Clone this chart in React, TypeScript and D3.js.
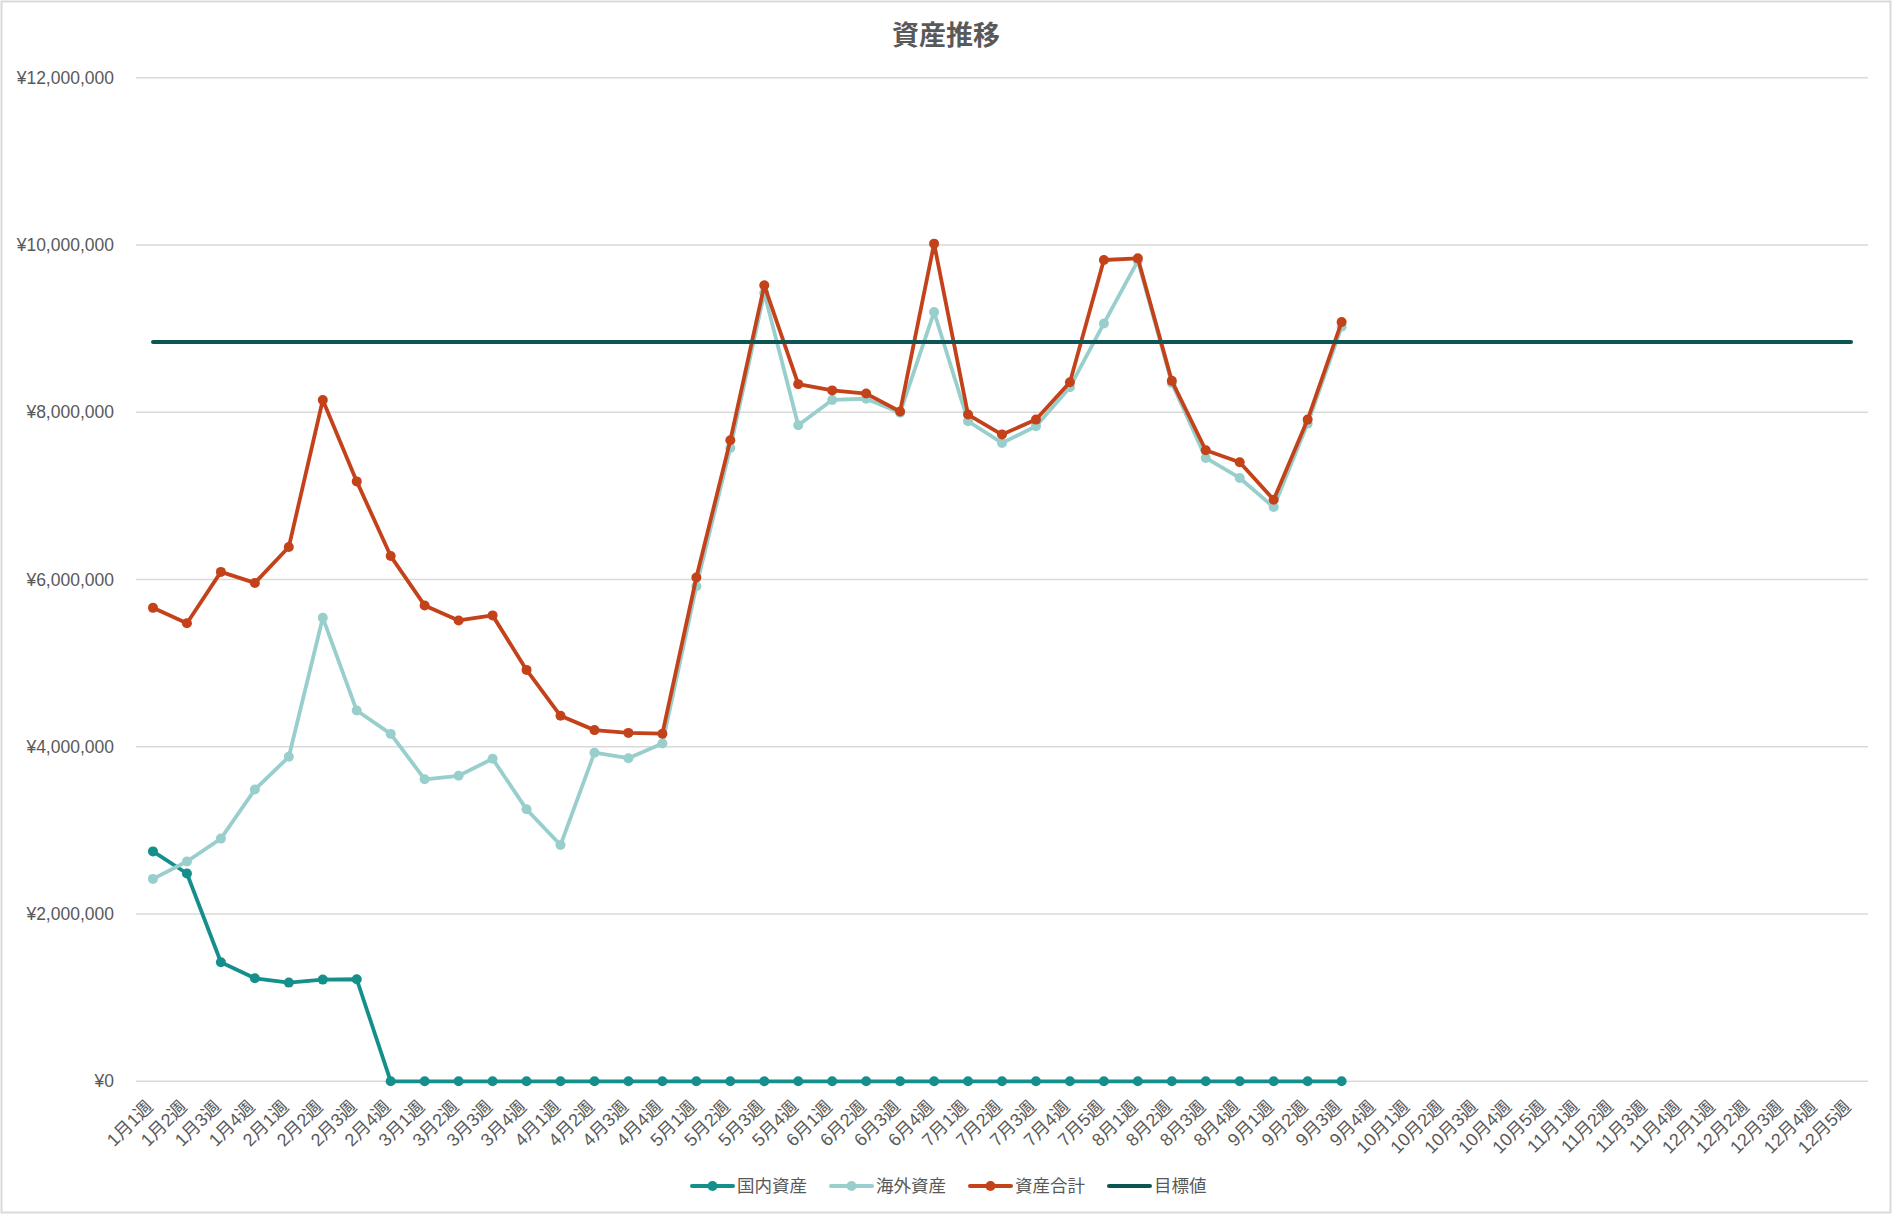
import React from "react";
import * as d3 from "d3";

const categories: string[] = [
  "1月1週", "1月2週", "1月3週", "1月4週",
  "2月1週", "2月2週", "2月3週", "2月4週",
  "3月1週", "3月2週", "3月3週", "3月4週",
  "4月1週", "4月2週", "4月3週", "4月4週",
  "5月1週", "5月2週", "5月3週", "5月4週",
  "6月1週", "6月2週", "6月3週", "6月4週",
  "7月1週", "7月2週", "7月3週", "7月4週", "7月5週",
  "8月1週", "8月2週", "8月3週", "8月4週",
  "9月1週", "9月2週", "9月3週", "9月4週",
  "10月1週", "10月2週", "10月3週", "10月4週", "10月5週",
  "11月1週", "11月2週", "11月3週", "11月4週",
  "12月1週", "12月2週", "12月3週", "12月4週", "12月5週",
];

const domestic: number[] = [
  2749000, 2485000, 1424000, 1232000, 1180000, 1216000, 1220000, 0,
  0, 0, 0, 0, 0, 0, 0, 0, 0, 0, 0, 0, 0, 0, 0, 0,
  0, 0, 0, 0, 0, 0, 0, 0, 0, 0, 0, 0,
];

const overseas: number[] = [
  2420000, 2628000, 2902000, 3488000, 3880000, 5543000, 4433000, 4154000,
  3611000, 3653000, 3856000, 3252000, 2825000, 3929000, 3863000, 4038000,
  5919000, 7573000, 9427000, 7844000, 8147000, 8161000, 7995000, 9198000,
  7892000, 7633000, 7832000, 8299000, 9062000, 9810000, 8350000, 7453000,
  7214000, 6866000, 7864000, 9022000,
];

const total: number[] = [
  5661000, 5477000, 6091000, 5959000, 6389000, 8146000, 7173000, 6280000,
  5690000, 5510000, 5571000, 4919000, 4370000, 4199000, 4166000, 4156000,
  6024000, 7664000, 9517000, 8336000, 8261000, 8223000, 8009000, 10016000,
  7972000, 7733000, 7912000, 8359000, 9820000, 9840000, 8375000, 7545000,
  7401000, 6954000, 7912000, 9078000,
];

const targetValue = 8840000;
const target: number[] = categories.map(() => targetValue);

const yTicks: number[] = [0, 2000000, 4000000, 6000000, 8000000, 10000000, 12000000];

const title = "資産推移";

const seriesNames = ["国内資産", "海外資産", "資産合計", "目標値"];
const seriesColors = ["#148f8b", "#98cfcd", "#c4421a", "#0d5553"];

const W = 1892;
const H = 1214;
const FONT = '"Liberation Sans", Arial, "Noto Sans CJK JP", sans-serif';
const TEXT = "#595959";

export default function App() {
  const x = d3.scaleBand<string>().domain(categories).range([136, 1868]).padding(0);
  const y = d3.scaleLinear().domain([0, 12000000]).range([1081.3, 77.7]);
  const cx = (c: string) => (x(c) as number) + x.bandwidth() / 2;

  const line = d3
    .line<number>()
    .x((_, i) => cx(categories[i]))
    .y((d) => y(d));

  const series = [
    { name: seriesNames[0], data: domestic, color: seriesColors[0], markers: true, width: 3.8 },
    { name: seriesNames[1], data: overseas, color: seriesColors[1], markers: true, width: 3.8 },
    { name: seriesNames[2], data: total, color: seriesColors[2], markers: true, width: 3.8 },
    { name: seriesNames[3], data: target, color: seriesColors[3], markers: false, width: 4 },
  ];

  const fmt = d3.format(",");
  const legendItemW = 139;
  const legendStart = 692;
  const legendY = 1186;

  return (
    <svg
      width={W}
      height={H}
      style={{ position: "absolute", left: 0, top: 0, background: "#fff" }}
      fontFamily={FONT}
    >
      <rect x={1.5} y={1.5} width={W - 3} height={H - 3} fill="#fff" stroke="#d9d9d9" strokeWidth={2} />
      <text x={946} y={45} textAnchor="middle" fontSize={27} fontWeight="bold" fill={TEXT}>
        {title}
      </text>

      {yTicks.map((t) => (
        <g key={t}>
          <line x1={136} x2={1868} y1={y(t)} y2={y(t)} stroke="#d9d9d9" strokeWidth={1.5} />
          <text x={114} y={y(t)} dy="0.35em" textAnchor="end" fontSize={17.5} fill={TEXT}>
            {"¥" + fmt(t)}
          </text>
        </g>
      ))}

      {categories.map((c) => (
        <text
          key={c}
          transform={`translate(${cx(c) + 1},${1108}) rotate(-45)`}
          textAnchor="end"
          fontSize={18}
          fill={TEXT}
        >
          {c}
        </text>
      ))}

      {series.map((s) => (
        <g key={s.name}>
          <path
            d={line(s.data) || ""}
            fill="none"
            stroke={s.color}
            strokeWidth={s.width}
            strokeLinejoin="round"
            strokeLinecap="round"
          />
          {s.markers &&
            s.data.map((v, i) => (
              <circle key={i} cx={cx(categories[i])} cy={y(v)} r={5} fill={s.color} />
            ))}
        </g>
      ))}

      {series.map((s, i) => {
        const lx = legendStart + i * legendItemW;
        return (
          <g key={"lg" + s.name}>
            <line x1={lx} x2={lx + 41} y1={legendY} y2={legendY} stroke={s.color} strokeWidth={4} strokeLinecap="round" />
            {s.markers && <circle cx={lx + 20.5} cy={legendY} r={5} fill={s.color} />}
            <text x={lx + 45} y={legendY} dy="0.36em" fontSize={17.5} fill={TEXT}>
              {s.name}
            </text>
          </g>
        );
      })}
    </svg>
  );
}
